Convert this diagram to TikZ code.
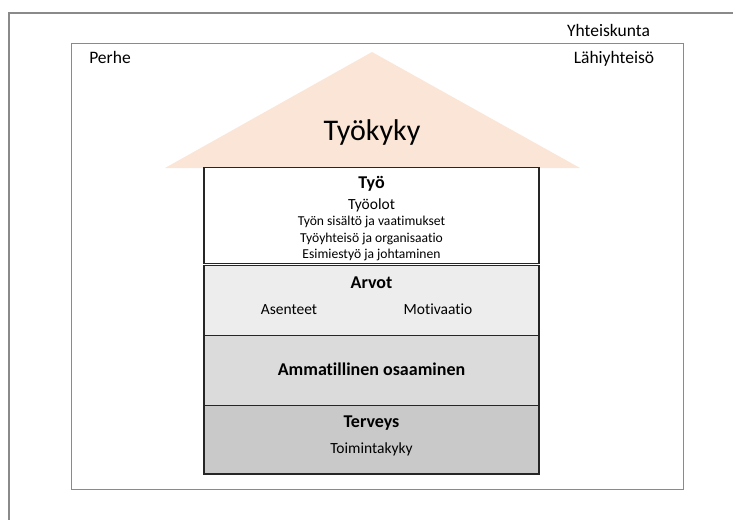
\documentclass[tikz,border=0pt]{standalone}
\usepackage{fontspec}
\setmainfont{Carlito}[Ligatures={NoCommon}]
\usepackage{xcolor}
\usetikzlibrary{positioning}
\definecolor{RoofPeach} {HTML}{FBE5D6}
\definecolor{FrameGray} {HTML}{8A8A8A}
\definecolor{ValueGray} {HTML}{EDEDED}
\definecolor{SkillGray} {HTML}{DBDBDB}
\definecolor{HealthGray}{HTML}{C9C9C9}
\tikzset{
  layer/.style={rectangle,draw=black!85,line width=1.1pt,fill=#1,
                minimum width=335pt,inner sep=0pt,outer sep=0pt},
  lbl/.style={anchor=base,inner sep=0pt,font=\fontsize{17.5}{19}\selectfont},
  head/.style={anchor=base,inner sep=0pt,font=\fontsize{18}{20}\selectfont\bfseries},
  item/.style={anchor=base,inner sep=0pt,font=\fontsize{15.5}{18}\selectfont},
  small/.style={anchor=base,inner sep=0pt,font=\fontsize{13.6}{16}\selectfont},
}

\begin{document}
\begin{tikzpicture}[x=1pt,y=-1pt]

  \useasboundingbox (0,0) rectangle (733,520);

  % frames
  \draw[FrameGray,line width=1.2pt] (9,520) |- (733,13);
  \draw[FrameGray,line width=1pt] (71,43) rectangle (683,489);
  \node[lbl] (YHT) at (608.5,36){Yhteiskunta};
  \node[lbl] (LAH) at (614,63){Lähiyhteisö};
  \node[lbl] (PER) at (110,63){Perhe};

  % roof
  \coordinate (RL) at (165,168);
  \coordinate (RT) at (372,52);
  \coordinate (RR) at (580,168);
  \fill[RoofPeach] (RL) -- (RT) -- (RR) -- cycle;
  \node[anchor=base,inner sep=0pt,font=\fontsize{30}{34}\selectfont]
    (KYKY) at (372,140){Työkyky};

  % layers
  \node[layer=HealthGray,minimum height=69pt] (TER) at (371.5,439.5){};
  \node[layer=SkillGray,minimum height=70pt]  (AMM) at (371.5,370.5){};
  \node[layer=ValueGray,minimum height=70pt]  (ARV) at (371.5,300.5){};
  \node[layer=white,minimum height=96pt]      (TYO) at (371.5,215.5){};

  \node[head]  (TYOH) at (371.5,188){Työ};
  \node[item]  (TYO1) at (371.5,209){Työolot};
  \node[small] (TYO2) at (371.5,225){Työn sisältö ja vaatimukset};
  \node[small] (TYO3) at (371.5,242){Työyhteisö ja organisaatio};
  \node[small] (TYO4) at (371.5,258.5){Esimiestyö ja johtaminen};

  \node[head] (ARVH) at (371.5,288){Arvot};
  \node[item] (ASE)  at (289,314){Asenteet};
  \node[item] (MOT)  at (438,314){Motivaatio};

  \node[head] (AMMH) at (371.5,375){Ammatillinen osaaminen};

  \node[head] (TERH) at (371.5,427){Terveys};
  \node[item] (TOI)  at (371.5,453){Toimintakyky};

\end{tikzpicture}
\end{document}
